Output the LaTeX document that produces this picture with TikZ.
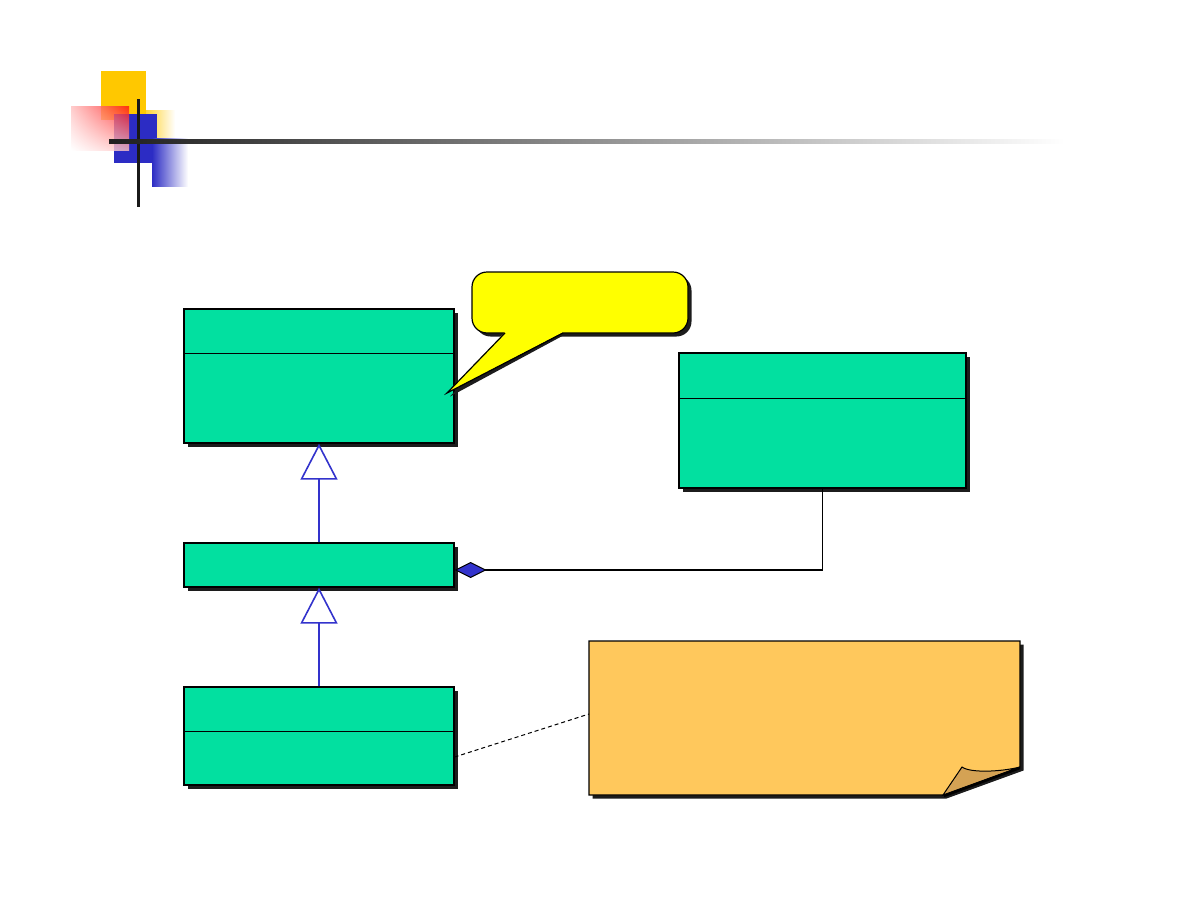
\documentclass[tikz,border=0pt]{standalone}
\usetikzlibrary{arrows.meta,shadows,calc,shadings}
\definecolor{umlgreen}{RGB}{2,224,160}
\definecolor{umlblue}{RGB}{51,51,204}
\definecolor{noteorange}{RGB}{255,200,92}
\definecolor{foldbrown}{RGB}{212,162,84}
\definecolor{decoyellow}{RGB}{255,200,0}
\definecolor{decoblue}{RGB}{44,44,196}
\definecolor{shadowgray}{RGB}{28,28,28}
\definecolor{calloutyellow}{RGB}{255,255,0}
\tikzset{
  classbox/.style={draw=black, line width=1.2pt, fill=umlgreen, inner sep=0pt,
    drop shadow={shadow xshift=3.5pt, shadow yshift=-3.5pt, fill=shadowgray, opacity=1}},
  divider/.style={line width=1pt, black},
  genline/.style={draw=umlblue, line width=1.6pt, -{Triangle[open, length=36pt, width=37pt, line width=1.6pt]}},
  aggline/.style={draw=black, line width=1.2pt, -{Diamond[fill=umlblue, length=32pt, width=16pt, line width=1pt]}},
  noteline/.style={draw=black, line width=1pt, dash pattern=on 4pt off 3pt},
}
\begin{document}
\begin{tikzpicture}[x=1pt,y=-1pt]
\useasboundingbox (0,0) rectangle (1188,918);
% ---------- decoration top-left ----------
\fill[decoyellow] (101,71) rectangle (146,120);
\shade[left color=decoyellow!80, right color=white] (146,110) rectangle (175,138);
\fill[decoblue] (114,114) rectangle (157,163);
\shade[left color=decoblue, right color=white] (152,138) rectangle (188,186);
\shade[upper right=red!95, upper left=red!25, lower right=red!25, lower left=white, opacity=0.8] (71,106) rectangle (129,150);
\fill[black!90] (136.5,99) rectangle (139.5,207);
\shade[left color=black!88, right color=white] (109,139) rectangle (1065,143);
% ---------- classes ----------
\node[classbox, minimum width=270pt, minimum height=134pt] (A) at (319,376) {};
\draw[divider] (A.west |- 0,353) -- (A.east |- 0,353);
\node[classbox, minimum width=270pt, minimum height=44pt] (B) at (319,565) {};
\node[classbox, minimum width=270pt, minimum height=98pt] (C) at (319,736) {};
\draw[divider] (C.west |- 0,731) -- (C.east |- 0,731);
\node[classbox, minimum width=287pt, minimum height=135pt] (D) at (822.5,420.5) {};
\draw[divider] (D.west |- 0,398) -- (D.east |- 0,398);
% ---------- callout ----------
\fill[shadowgray, rounded corners=15pt] (475.5,275.5) rectangle (691.5,336.5);
\fill[shadowgray] (508,334) -- (450,396.5) -- (566,334) -- cycle;
\node[draw=black, line width=1.2pt, fill=calloutyellow, rounded corners=15pt, minimum width=216pt, minimum height=61pt, inner sep=0pt] (callout) at (580,302.5) {};
\coordinate (tip) at (447,393);
\fill[calloutyellow] (505,332.2) -- (tip) -- (563,332.2) -- cycle;
\draw[black, line width=1.2pt] (505,333) -- (tip) -- (563,333);
% ---------- note ----------
\fill[shadowgray] (592.5,644.5) -- (1023.5,644.5) -- (1023.5,770.5) -- (946.5,798.5) -- (592.5,798.5) -- cycle;
\filldraw[fill=noteorange, draw=black, line width=1.2pt] (589,641) -- (1020,641) -- (1020,767) -- (943,795) -- (589,795) -- cycle;
\filldraw[fill=foldbrown, draw=black, line width=1pt] (943,795) -- (962,767) .. controls (970,773) and (1000,772) .. (1020,767) -- cycle;
\draw[black, line width=2.4pt] (1020,768) -- (944,796);
\coordinate (noteleft) at (589,714);
% ---------- connectors ----------
\draw[genline] (B.north) -- (A.south);
\draw[genline] (C.north) -- (B.south);
\draw[aggline] (D.south) |- ([yshift=-5pt]B.east);
\draw[noteline] ([yshift=-21pt]C.east) -- (noteleft);
\end{tikzpicture}
\end{document}
